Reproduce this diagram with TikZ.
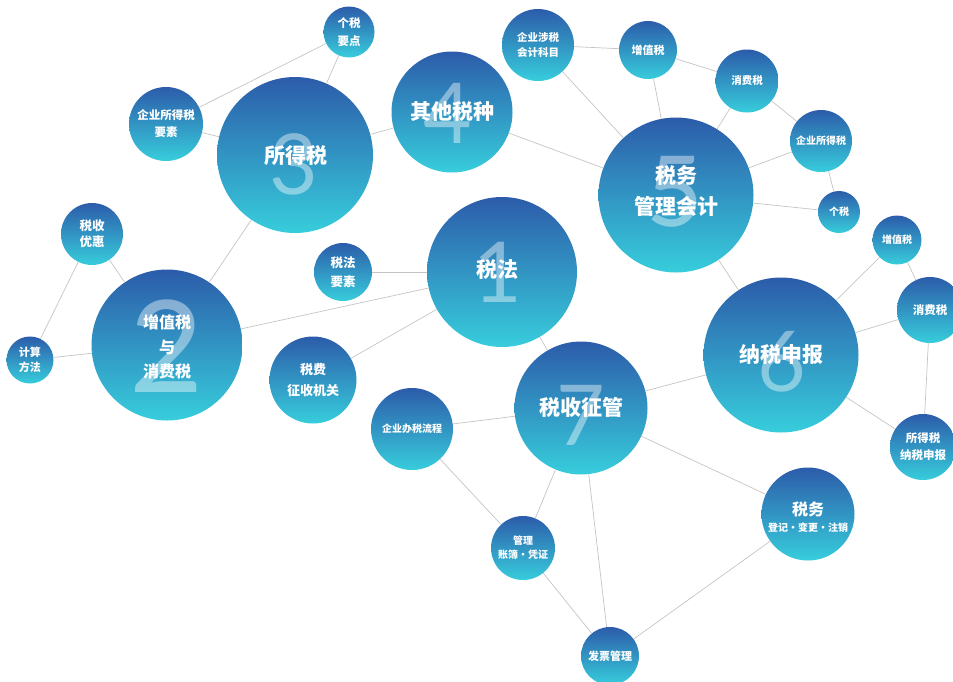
\documentclass[tikz,border=0pt]{standalone}
\usepackage{fontspec}
\setmainfont{Lato}
\newfontfamily\cjk{Noto Sans CJK SC}
\usetikzlibrary{positioning}

\definecolor{bubtop}{HTML}{2C5CAA}
\definecolor{bubbot}{HTML}{37CDDC}
\definecolor{linkgray}{HTML}{C4C4C4}

\tikzset{
  bubble/.style={circle,inner sep=0pt,top color=bubtop,bottom color=bubbot},
  bignum/.style={text=white,text opacity=0.42,inner sep=0pt,font=\fontsize{#1}{#1}\selectfont},
  bignum/.default=84,
  txt/.style 2 args={text=white,align=center,inner sep=0pt,font=\cjk\bfseries\fontsize{#1}{#2}\selectfont},
  link/.style={draw=linkgray,line width=0.7pt},
}

\begin{document}
\begin{tikzpicture}[x=1pt,y=-1pt]
  \useasboundingbox (0,0) rectangle (953,681);

  % seven topics
  \node[bubble,minimum size=150] (taxlaw) at (502,272) {};
  \node[bignum] (num1) at (498,272) {1};
  \node[txt={21}{31}] (lbl1) at (497,270) {税法};

  \node[bubble,minimum size=151] (vatcons) at (167,345) {};
  \node[bignum=128] (num2) at (167,346) {2};
  \node[txt={16}{24.5}] (lbl2) at (167,347) {增值税\\与\\消费税};

  \node[bubble,minimum size=156] (income) at (295,155) {};
  \node[bignum] (num3) at (294,164) {3};
  \node[txt={21}{31}] (lbl3) at (296,156) {所得税};

  \node[bubble,minimum size=121] (othertax) at (452,112) {};
  \node[bignum] (num4) at (448,113) {4};
  \node[txt={21}{31}] (lbl4) at (452,112) {其他税种};

  \node[bubble,minimum size=155] (mgmtacct) at (676,195) {};
  \node[bignum=98] (num5) at (675,192) {5};
  \node[txt={21}{31}] (lbl5) at (676,191) {税务\\管理会计};

  \node[bubble,minimum size=155] (filing) at (781,355) {};
  \node[bignum] (num6) at (782,362) {6};
  \node[txt={21}{31}] (lbl6) at (781,355) {纳税申报};

  \node[bubble,minimum size=133] (collect) at (581,408) {};
  \node[bignum] (num7) at (581,415) {7};
  \node[txt={21}{31}] (lbl7) at (581,407) {税收征管};

  % small bubbles
  \node[bubble,minimum size=51,txt={11.5}{18}] (ptaxpts) at (349,32) {个税\\要点};
  \node[bubble,minimum size=74,txt={11.5}{17}] (citelem) at (166,124) {企业所得税\\要素};
  \node[bubble,minimum size=72,txt={10.5}{15}] (acctitem) at (538,45) {企业涉税\\会计科目};
  \node[bubble,minimum size=58,txt={11}{15}] (vattop) at (648,50) {增值税};
  \node[bubble,minimum size=63,txt={10.5}{15}] (constop) at (747,81) {消费税};
  \node[bubble,minimum size=62,txt={10}{15}] (citright) at (821,141) {企业所得税};
  \node[bubble,minimum size=42,txt={10}{15}] (ptaxright) at (839,212) {个税};
  \node[bubble,minimum size=49,txt={10}{15}] (vatright) at (897,240) {增值税};
  \node[bubble,minimum size=66,txt={11.5}{15}] (consright) at (930,310) {消费税};
  \node[bubble,minimum size=66,txt={11.5}{17}] (incfiling) at (923,447) {所得税\\纳税申报};
  \node[bubble,minimum size=93] (registr) at (808,514) {};
  \node[txt={16}{20}] (regtop) at (808,509) {税务};
  \node[txt={10}{14}] (regbot) at (808,528) {登记・变更・注销};
  \node[bubble,minimum size=82,txt={10}{15}] (process) at (412,429) {企业办税流程};
  \node[bubble,minimum size=64,txt={10}{14}] (books) at (523,548) {管理\\账簿・凭证};
  \node[bubble,minimum size=58,txt={11}{15}] (invoice) at (610,656) {发票管理};
  \node[bubble,minimum size=87,txt={13}{21}] (collorg) at (313,380) {税费\\征收机关};
  \node[bubble,minimum size=58,txt={12.5}{19}] (lawelem) at (343,272) {税法\\要素};
  \node[bubble,minimum size=62,txt={12.5}{15.5}] (incentive) at (92,234) {税收\\优惠};
  \node[bubble,minimum size=47,txt={11}{15}] (calcmeth) at (30,360) {计算\\方法};

  % links
  \draw[link] (ptaxpts) -- (citelem);
  \draw[link] (ptaxpts) -- (income);
  \draw[link] (citelem) -- (income);
  \draw[link] (income) -- (othertax);
  \draw[link] (income) -- (vatcons);
  \draw[link] (incentive) -- (vatcons);
  \draw[link] (incentive) -- (calcmeth);
  \draw[link] (calcmeth) -- (vatcons);
  \draw[link] (vatcons) -- (taxlaw);
  \draw[link] (lawelem) -- (taxlaw);
  \draw[link] (collorg) -- (taxlaw);
  \draw[link] (taxlaw) -- (collect);
  \draw[link] (othertax) -- (mgmtacct);
  \draw[link] (acctitem) -- (vattop);
  \draw[link] (acctitem) -- (mgmtacct);
  \draw[link] (vattop) -- (constop);
  \draw[link] (vattop) -- (mgmtacct);
  \draw[link] (constop) -- (citright);
  \draw[link] (constop) -- (mgmtacct);
  \draw[link] (citright) -- (mgmtacct);
  \draw[link] (citright) -- (ptaxright);
  \draw[link] (ptaxright) -- (mgmtacct);
  \draw[link] (mgmtacct) -- (filing);
  \draw[link] (vatright) -- (filing);
  \draw[link] (vatright) -- (consright);
  \draw[link] (consright) -- (filing);
  \draw[link] (consright) -- (incfiling);
  \draw[link] (filing) -- (incfiling);
  \draw[link] (filing) -- (collect);
  \draw[link] (collect) -- (process);
  \draw[link] (collect) -- (books);
  \draw[link] (collect) -- (invoice);
  \draw[link] (collect) -- (registr);
  \draw[link] (process) -- (books);
  \draw[link] (books) -- (invoice);
  \draw[link] (invoice) -- (registr);
\end{tikzpicture}
\end{document}
